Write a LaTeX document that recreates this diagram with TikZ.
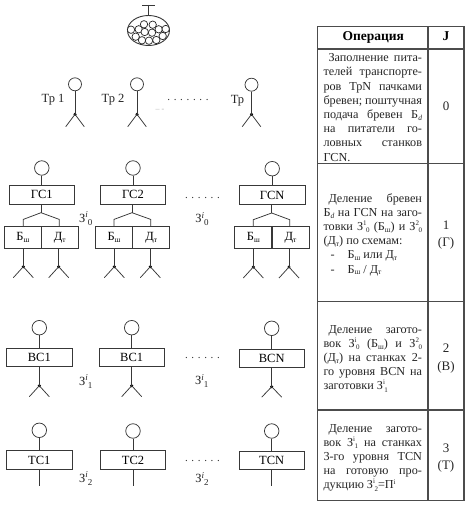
\documentclass[tikz,border=0pt]{standalone}
\usepackage{fontspec}
\setmainfont{Liberation Serif}
\usetikzlibrary{calc}
\newcommand{\jl}[1]{\hbox to 98.5pt{#1}}
\newcommand{\fl}[1]{\hbox to 98.5pt{#1\hfill}}
\newcommand{\il}[1]{\hbox to 98.5pt{\hspace{5pt}#1}}
\newcommand{\lowt}[1]{\raisebox{-0.35ex}{\fontsize{7.5}{8}\selectfont #1}}
\newcommand{\ssb}[2]{\raisebox{0.9ex}{\fontsize{7}{8}\selectfont #1}\kern-0.5pt\raisebox{-0.4ex}{\fontsize{7}{8}\selectfont #2}}
\newcommand{\isb}[2]{\raisebox{0.85ex}{\fontsize{9}{9}\selectfont\itshape #1}\raisebox{-0.5ex}{\fontsize{9}{9}\selectfont #2}}
\newcommand{\blk}[1]{\vtop{\baselineskip=14.2pt\lineskiplimit=-10pt #1}}
\tikzset{
  ln/.style={draw=black!78,line width=0.75pt},
  head/.style={circle,ln,minimum size=14.5pt,inner sep=0pt},
  headsm/.style={circle,ln,minimum size=13pt,inner sep=0pt},
  log/.style={circle,draw=black!85,line width=0.7pt,fill=white,minimum size=7.4pt,inner sep=0pt},
  mach/.style={rectangle,ln,minimum width=65.5pt,minimum height=18.5pt,inner sep=0pt,font=\fontsize{12.5}{12}\selectfont},
  half/.style={rectangle,ln,minimum width=37pt,minimum height=22pt,inner sep=0pt,font=\fontsize{12.5}{12}\selectfont},
  lbl/.style={inner sep=0pt,font=\fontsize{12.5}{12}\selectfont,text=black!85},
  dots/.style={inner sep=0pt,font=\fontsize{11}{11}\selectfont,text=black!80},
  tline/.style={draw=black!70,line width=1.25pt},
  cell/.style={inner sep=0pt,anchor=base west,font=\fontsize{12.2}{14}\selectfont,text=black!85},
  jcell/.style={inner sep=0pt,anchor=base,font=\fontsize{13}{14}\selectfont,text=black!85},
  hcell/.style={inner sep=0pt,anchor=base,font=\fontsize{13.5}{14}\bfseries\selectfont,text=black},
}
% stick legs: #1 name, #2 x, #3 y of the dot, #4 half spread, #5 drop
\newcommand{\legs}[5]{%
  \coordinate (#1) at (#2,#3);
  \coordinate (#1L) at (#2-#4,#3+#5);
  \coordinate (#1R) at (#2+#4,#3+#5);
  \fill[black] (#1) circle (1.7pt);
  \draw[ln] (#1L) -- (#1) -- (#1R);
}
\begin{document}
\begin{tikzpicture}[x=1pt,y=-1pt]
\useasboundingbox (0,0) rectangle (471,505);
\fill[white] (0,0) rectangle (471,505);

% ---- bundle
\coordinate (barL) at (142,5);
\coordinate (barR) at (155,5);
\coordinate (barM) at (148.5,5);
\draw[ln,line width=0.9pt] (148.5,30.5) ellipse (21pt and 15pt);
\coordinate (bundleTop) at (148.5,15.5);
\draw[ln] (barL) -- (barR);
\draw[ln] (barM) -- (bundleTop);
\foreach \n/\x/\y in {a/131/29.7,b/138.7/29.3,c/144/24.3,d/152.7/24.7,e/158.7/29.3,f/165.7/29,
  g/135.7/36.7,h/144.7/32,i/152/32.7,j/162.7/36,k/142/40.3,l/149/40.7,m/156.3/40}
  \node[log] (log\n) at (\x,\y) {};

% ---- transporters
\node[headsm] (t1) at (75,84.3) {};
\node[headsm] (t2) at (137,84.3) {};
\node[headsm] (t3) at (251.5,84.7) {};
\legs{td1}{75}{114.3}{9.3}{12.4}
\legs{td2}{137}{114.3}{9.3}{12.4}
\legs{td3}{251.5}{114.3}{9.3}{12.4}
\draw[ln] (t1) -- (td1); \draw[ln] (t2) -- (td2); \draw[ln] (t3) -- (td3);
\node[lbl] (tl1) at (53,100) {Тр 1};
\node[lbl] (tl2) at (113,100) {Тр 2};
\node[lbl] (tl3) at (237.5,100.5) {Тр};
\node[dots] (tdots) at (188,100) {.\,\,.\,\,.\,\,.\,\,.\,\,.\,\,.};
\node[inner sep=0pt,text=black!30,font=\fontsize{8}{8}\selectfont] (tdash) at (160,110) {-- -};

% ---- ГС row
\node[head] (g1) at (41.8,168) {};
\node[head] (g2) at (133,168) {};
\node[head] (g3) at (272.2,168.7) {};
\node[mach] (G1) at (41.8,194.7) {ГС1};
\node[mach] (G2) at (133,194.7) {ГС2};
\node[mach] (G3) at (272.2,195) {ГСN};
\draw[ln] (g1) -- (G1); \draw[ln] (g2) -- (G2); \draw[ln] (g3) -- (G3);
% lower split boxes
\node[half] (b1) at (22.85,237.3) {Б\lowt{ш}};
\node[half] (d1) at (59.85,237.3) {Д\lowt{т}};
\node[half] (b2) at (114,237.3) {Б\lowt{ш}};
\node[half] (d2) at (151.3,237.3) {Д\lowt{т}};
\node[half] (b3) at (253.3,237.7) {Б\lowt{ш}};
\node[half] (d3) at (290.5,237.7) {Д\lowt{т}};
\foreach \G/\b/\d/\xm/\xa/\xc/\ys in {G1/b1/d1/41/23.3/59.3/212.7, G2/b2/d2/132/114/150.7/212.7, G3/b3/d3/271.7/253.3/289.7/213}{
  \coordinate (j\G) at (\xm,\ys);
  \draw[ln] (\G.south -| j\G) -- (j\G);
  \draw[ln] (j\G) -- (\xa,\ys+6.7) -- (\xa,226.5);
  \draw[ln] (j\G) -- (\xc,\ys+6.7) -- (\xc,226.5);
}
\legs{gb1}{23.3}{266.7}{10}{11}
\legs{gd1}{58.7}{266.7}{10}{11}
\legs{gb2}{114.3}{266.7}{10}{11}
\legs{gd2}{150.3}{266.7}{10}{11}
\legs{gb3}{253.3}{267}{10}{11}
\legs{gd3}{289}{267}{10}{11}
\draw[ln] (23.3,248.3) -- (gb1); \draw[ln] (58.7,248.3) -- (gd1);
\draw[ln] (114.3,248.3) -- (gb2); \draw[ln] (150.3,248.3) -- (gd2);
\draw[ln] (253.3,248.7) -- (gb3); \draw[ln] (289,248.7) -- (gd3);
\node[lbl] (z01) at (85.7,218.5) {З\isb{i}{0}};
\node[lbl] (z02) at (202,219) {З\isb{i}{0}};
\node[dots] (gdots) at (202.5,198.5) {.\,\,.\,\,.\,\,.\,\,.\,\,.};

% ---- ВС row
\node[head] (v1) at (39.3,327.7) {};
\node[head] (v2) at (131.7,327.7) {};
\node[head] (v3) at (271.7,328.3) {};
\node[mach] (V1) at (39.3,357.3) {ВС1};
\node[mach] (V2) at (131.7,357.3) {ВС1};
\node[mach] (V3) at (271.7,358.2) {ВСN};
\draw[ln] (v1) -- (V1); \draw[ln] (v2) -- (V2); \draw[ln] (v3) -- (V3);
\legs{vd1}{39.3}{385.7}{10}{11}
\legs{vd2}{131.7}{385.7}{10}{11}
\legs{vd3}{271.7}{386.7}{10}{10.5}
\draw[ln] (V1) -- (vd1); \draw[ln] (V2) -- (vd2); \draw[ln] (V3) -- (vd3);
\node[lbl] (z11) at (85.7,381.7) {З\isb{i}{1}};
\node[lbl] (z12) at (201.7,381) {З\isb{i}{1}};
\node[dots] (vdots) at (202.5,358.5) {.\,\,.\,\,.\,\,.\,\,.\,\,.};

% ---- ТС row
\node[head] (c1) at (39.3,430.3) {};
\node[head] (c2) at (133,431) {};
\node[head] (c3) at (271.7,431) {};
\node[mach] (C1) at (39.3,460) {ТС1};
\node[mach] (C2) at (133,460) {ТС2};
\node[mach] (C3) at (271.7,460.3) {ТСN};
\draw[ln] (c1) -- (C1); \draw[ln] (c2) -- (C2); \draw[ln] (c3) -- (C3);
\coordinate (ce1) at (39.3,486); \coordinate (ce2) at (133,486); \coordinate (ce3) at (271.7,486);
\draw[ln] (C1) -- (ce1); \draw[ln] (C2) -- (ce2); \draw[ln] (C3) -- (ce3);
\node[lbl] (z21) at (85.7,478.5) {З\isb{i}{2}};
\node[lbl] (z22) at (202,479) {З\isb{i}{2}};
\node[dots] (cdots) at (202.5,460.5) {.\,\,.\,\,.\,\,.\,\,.\,\,.};

% ---- table
\draw[tline] (317.3,26.7) rectangle (464,500.7);
\draw[tline] (428,26.7) -- (428,500.7);
\draw[tline] (317.3,49) -- (464,49);
\draw[tline] (317.3,163.3) -- (464,163.3);
\draw[tline] (317.3,301.7) -- (464,301.7);
\draw[tline] (317.3,410) -- (464,410);

\node[hcell] (h1) at (373.3,41) {Операция};
\node[hcell] (h2) at (446,41) {J};

\node[cell] (op0) at (323.3,61.8) {\blk{%
 \il{Заполнение пита-}
 \jl{телей транспорте-}
 \jl{ров ТрN пачками}
 \jl{бревен; поштучная}
 \jl{подача бревен Б\lowt{\itshape d}}
 \jl{на питатели го-}
 \jl{ловных станков}
 \fl{ГСN.}}};
\node[cell] (op1) at (323.3,202) {\blk{%
 \il{Деление бревен}
 \jl{Б\lowt{\itshape d} на ГСN на заго-}
 \jl{товки З\ssb{1}{0} (Б\lowt{ш}) и З\ssb{2}{0}}
 \fl{(Д\lowt{т}) по схемам:}
 \fl{\hspace{7pt}-\hspace{13pt}Б\lowt{ш} или Д\lowt{т}}
 \fl{\hspace{7pt}-\hspace{13pt}Б\lowt{ш} / Д\lowt{т}}}};
\node[cell] (op2) at (323.3,333) {\blk{%
 \il{Деление загото-}
 \jl{вок З\ssb{i}{0} (Б\lowt{ш}) и З\ssb{2}{0}}
 \jl{(Д\lowt{т}) на станках 2-}
 \jl{го уровня ВСN на}
 \fl{заготовки З\ssb{i}{1}}}};
\node[cell] (op3) at (323.3,432) {\blk{%
 \il{Деление загото-}
 \jl{вок З\ssb{i}{1} на станках}
 \jl{3-го уровня ТСN}
 \jl{на готовую про-}
 \fl{дукцию З\ssb{i}{2}=П\raisebox{0.85ex}{\fontsize{7}{8}\selectfont i}}}};

\node[jcell] (j0) at (446,111) {0};
\node[jcell] (j1a) at (446,229.5) {1};
\node[jcell] (j1b) at (446,246) {(Г)};
\node[jcell] (j2a) at (446,352) {2};
\node[jcell] (j2b) at (446,370) {(В)};
\node[jcell] (j3a) at (446,452) {3};
\node[jcell] (j3b) at (446,469) {(Т)};
\end{tikzpicture}
\end{document}
